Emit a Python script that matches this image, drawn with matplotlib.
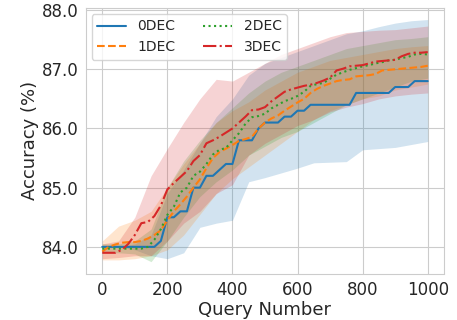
import numpy as np
import matplotlib
matplotlib.use('Agg')
import matplotlib.pyplot as plt
import seaborn as sns

# query numbers for the mean curves (every 20 queries)
queries = np.arange(0, 1001, 20)

acc_0dec = [84.0, 84.0, 84.0, 84.0, 84.0, 84.0, 84.0, 84.0, 84.0, 84.1,
            84.5, 84.5, 84.6, 84.6, 85.0, 85.0, 85.2, 85.2, 85.3, 85.4,
            85.4, 85.8, 85.8, 85.8, 86.0, 86.1, 86.1, 86.1, 86.2, 86.2,
            86.3, 86.3, 86.4, 86.4, 86.4, 86.4, 86.4, 86.4, 86.4, 86.6,
            86.6, 86.6, 86.6, 86.6, 86.6, 86.7, 86.7, 86.7, 86.8, 86.8,
            86.8]
acc_1dec = [83.92, 84.00, 84.04, 84.07, 84.08, 84.08, 84.10, 84.14, 84.20, 84.28,
            84.45, 84.60, 84.72, 84.85, 85.00, 85.14, 85.33, 85.50, 85.60, 85.66,
            85.72, 85.79, 85.82, 85.86, 86.00, 86.10, 86.17, 86.22, 86.30, 86.37,
            86.44, 86.50, 86.60, 86.67, 86.72, 86.76, 86.80, 86.82, 86.83, 86.88,
            86.89, 86.90, 86.92, 86.98, 86.99, 87.00, 87.01, 87.02, 87.03, 87.04,
            87.06]
acc_2dec = [83.97, 83.97, 83.97, 83.97, 83.97, 83.97, 83.97, 84.00, 84.12, 84.30,
            84.54, 84.68, 84.92, 85.00, 85.20, 85.27, 85.40, 85.56, 85.64, 85.67,
            85.80, 85.92, 86.08, 86.19, 86.21, 86.25, 86.34, 86.40, 86.46, 86.50,
            86.55, 86.62, 86.72, 86.75, 86.77, 86.84, 86.91, 86.95, 86.99, 87.02,
            87.05, 87.07, 87.10, 87.12, 87.15, 87.16, 87.19, 87.21, 87.25, 87.26,
            87.25]
acc_3dec = [83.90, 83.90, 83.90, 83.95, 84.05, 84.20, 84.40, 84.42, 84.52, 84.70,
            84.97, 85.08, 85.18, 85.28, 85.45, 85.55, 85.75, 85.80, 85.86, 85.93,
            86.00, 86.10, 86.20, 86.31, 86.32, 86.36, 86.46, 86.54, 86.62, 86.66,
            86.69, 86.72, 86.74, 86.77, 86.81, 86.86, 86.98, 87.01, 87.05, 87.06,
            87.07, 87.10, 87.13, 87.14, 87.15, 87.16, 87.22, 87.26, 87.28, 87.28,
            87.29]

# shaded ranges (every 50 queries)
band_q = np.arange(0, 1001, 50)
lo_0dec = [84.0, 84.0, 83.95, 83.85, 83.8, 83.9, 84.33, 84.4, 84.45, 85.1, 85.17,
           85.25, 85.33, 85.42, 85.43, 85.44, 85.64, 85.66, 85.68, 85.73, 85.78]
hi_0dec = [84.0, 84.0, 84.05, 84.2, 84.9, 85.3, 85.75, 86.2, 86.5, 86.9, 87.1,
           87.2, 87.3, 87.4, 87.5, 87.6, 87.65, 87.72, 87.78, 87.82, 87.84]
lo_1dec = [83.78, 83.78, 83.8, 83.85, 83.95, 84.2, 84.55, 84.9, 85.15, 85.35, 85.55,
           85.75, 85.95, 86.15, 86.3, 86.4, 86.5, 86.55, 86.65, 86.7, 86.75]
hi_1dec = [84.1, 84.35, 84.45, 84.6, 85.0, 85.4, 85.75, 86.1, 86.3, 86.45, 86.65,
           86.8, 86.95, 87.05, 87.15, 87.2, 87.25, 87.3, 87.35, 87.38, 87.4]
lo_2dec = [83.9, 83.9, 83.88, 83.75, 84.1, 84.5, 84.85, 85.1, 85.3, 85.55, 85.7,
           85.85, 85.95, 86.1, 86.25, 86.4, 86.5, 86.6, 86.7, 86.8, 86.85]
hi_2dec = [84.05, 84.05, 84.1, 84.3, 85.0, 85.45, 85.8, 86.1, 86.35, 86.6, 86.8,
           86.95, 87.05, 87.15, 87.25, 87.35, 87.4, 87.45, 87.5, 87.52, 87.55]
lo_3dec = [83.8, 83.82, 83.85, 83.85, 84.1, 84.4, 84.6, 84.9, 85.05, 85.55, 85.75,
           85.9, 86.05, 86.15, 86.28, 86.36, 86.42, 86.5, 86.55, 86.58, 86.6]
hi_3dec = [84.05, 84.1, 84.5, 85.2, 85.66, 86.1, 86.5, 86.83, 86.8, 86.95, 87.1,
           87.25, 87.35, 87.45, 87.55, 87.62, 87.64, 87.66, 87.67, 87.7, 87.73]

labels = ['0DEC', '1DEC', '2DEC', '3DEC']
means = [acc_0dec, acc_1dec, acc_2dec, acc_3dec]
lows = [lo_0dec, lo_1dec, lo_2dec, lo_3dec]
highs = [hi_0dec, hi_1dec, hi_2dec, hi_3dec]
styles = ['-', '--', ':', '-.']
colors = ['tab:blue', 'tab:orange', 'tab:green', 'tab:red']

sns.set_style('whitegrid')
plt.rcParams['font.family'] = ['DejaVu Sans']

fig = plt.figure(figsize=(4.57, 3.2), dpi=100)
ax = fig.add_axes([86 / 457, 1 - 273.5 / 320, (444 - 86) / 457, (273.5 - 8.3) / 320])

for m, lo, hi, ls, c, lab in zip(means, lows, highs, styles, colors, labels):
    ax.fill_between(band_q, lo, hi, color=c, alpha=0.2, linewidth=0)
    ax.plot(queries, m, linestyle=ls, color=c, linewidth=1.5, label=lab)

ax.set_xlim(-50, 1050)
ax.set_ylim(83.55, 88.03)
ax.set_xticks([0, 200, 400, 600, 800, 1000])
ax.set_yticks([84, 85, 86, 87, 88])
ax.set_yticklabels([f'{v:.1f}' for v in [84, 85, 86, 87, 88]])
ax.tick_params(labelsize=12, pad=2)
ax.set_xlabel('Query Number', fontsize=13, labelpad=1)
ax.set_ylabel('Accuracy (%)', fontsize=13, labelpad=2)

ax.legend(loc='upper left', ncol=2, fontsize=10, columnspacing=2.0,
          handlelength=2.1, borderaxespad=0.4)

fig.savefig('out.png', dpi=100)
